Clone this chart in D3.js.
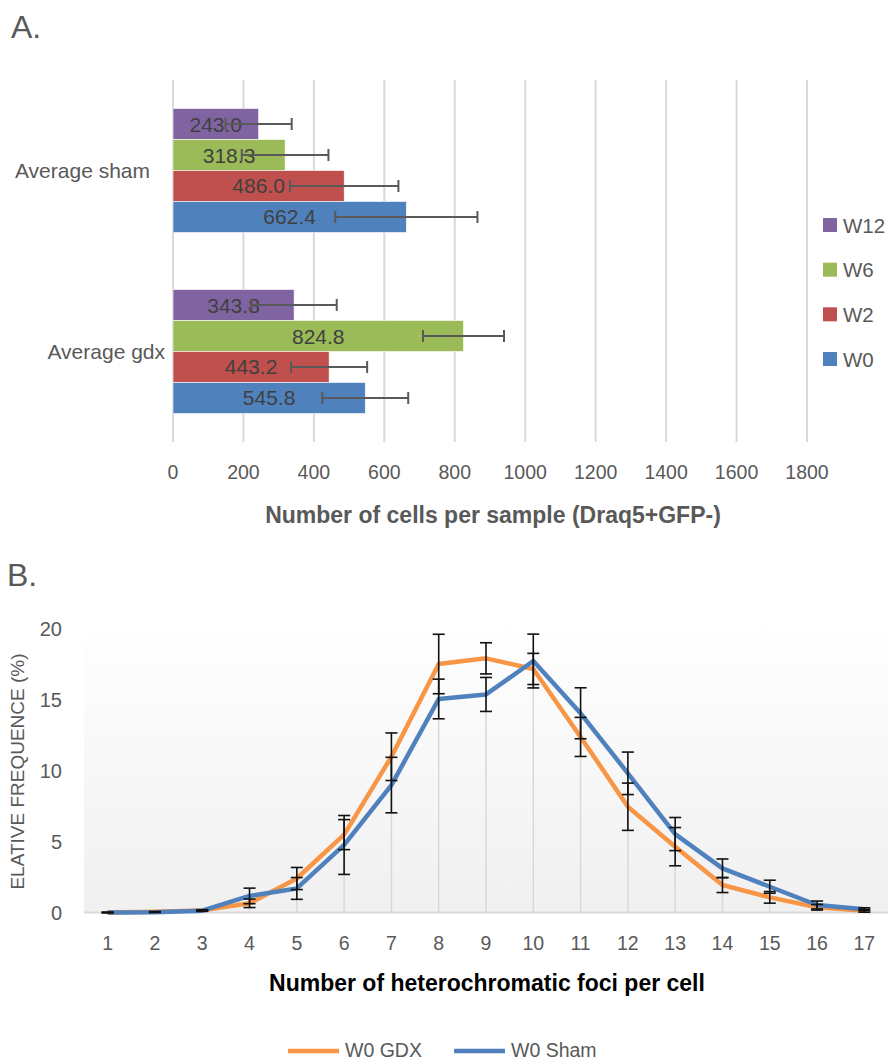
<!DOCTYPE html>
<html>
<head>
<meta charset="utf-8">
<script src="https://cdn.jsdelivr.net/npm/d3@7"></script>
<style>
  html, body { margin: 0; padding: 0; background: #fff; }
  svg { display: block; font-family: "Liberation Sans", Arial, sans-serif; }
</style>
</head>
<body>
<svg id="chart" width="891" height="1062"></svg>
<script>
// ---------- Panel A data ----------
const groupsA = ["Average sham", "Average gdx"];
const seriesA = ["W12", "W6", "W2", "W0"];
const colorsA = ["#8064A2", "#9BBB59", "#C0504D", "#4F81BD"];
const valuesSham = [243.0, 318.3, 486.0, 662.4];
const valuesGdx = [343.8, 824.8, 443.2, 545.8];
const errSham = [94, 123, 154, 202];
const errGdx = [121, 115, 108, 122];
const ticksA = [0, 200, 400, 600, 800, 1000, 1200, 1400, 1600, 1800];

// ---------- Panel B data ----------
const fociCats = [1,2,3,4,5,6,7,8,9,10,11,12,13,14,15,16,17];
const gdxVals = [0.0, 0.05, 0.15, 0.65, 2.4, 5.5, 11.0, 17.55, 17.95, 17.2, 12.4, 7.47, 4.65, 1.94, 1.07, 0.37, 0.12];
const gdxErr  = [0.02, 0.02, 0.05, 0.3, 0.78, 1.06, 1.68, 2.1, 1.1, 1.1, 1.38, 1.67, 1.35, 0.53, 0.41, 0.2, 0.1];
const shamVals = [0.0, 0.02, 0.13, 1.17, 1.7, 4.77, 9.0, 15.08, 15.4, 17.76, 14.07, 9.83, 5.54, 3.12, 1.82, 0.53, 0.23];
const shamErr  = [0.02, 0.02, 0.05, 0.55, 0.77, 2.08, 1.96, 1.4, 1.2, 1.9, 1.8, 1.5, 1.17, 0.66, 0.46, 0.28, 0.1];
const ticksB = [0, 5, 10, 15, 20];
const seriesB = ["W0 GDX", "W0 Sham"];
const colorsB = ["#F79646", "#4F81BD"];

const svg = d3.select("#chart");
const grey = "#595959";

// =============== PANEL A ===============
svg.append("text").attr("x", 11).attr("y", 38).attr("font-size", 32)
  .attr("fill", grey).text("A.");

const xA = d3.scaleLinear().domain([0, 1800]).range([173, 807]);
const yA = d3.scaleBand().domain(groupsA).range([80, 442])
  .paddingInner(0.315).paddingOuter(0.1575);
const yA1 = d3.scaleBand().domain(seriesA).range([0, yA.bandwidth()]);

const gA = svg.append("g");
// gridlines
gA.selectAll("line.grid").data(ticksA).join("line")
  .attr("x1", d => xA(d)).attr("x2", d => xA(d))
  .attr("y1", 80).attr("y2", 442)
  .attr("stroke", "#d9d9d9").attr("stroke-width", 2);
// tick labels
gA.selectAll("text.tick").data(ticksA).join("text")
  .attr("x", d => xA(d)).attr("y", 479)
  .attr("text-anchor", "middle").attr("font-size", 19.5).attr("fill", grey)
  .text(d => d);

const dataA = [];
groupsA.forEach((g, gi) => {
  const vals = gi === 0 ? valuesSham : valuesGdx;
  const errs = gi === 0 ? errSham : errGdx;
  seriesA.forEach((s, si) => dataA.push({g, s, v: vals[si], e: errs[si], c: colorsA[si]}));
});

gA.selectAll("rect.bar").data(dataA).join("rect")
  .attr("x", xA(0)).attr("y", d => yA(d.g) + yA1(d.s))
  .attr("width", d => xA(d.v) - xA(0)).attr("height", yA1.bandwidth())
  .attr("fill", d => d.c).attr("stroke", "#fff").attr("stroke-width", 0.6);

// data labels
gA.selectAll("text.lbl").data(dataA).join("text")
  .attr("x", d => (xA(0) + xA(d.v)) / 2)
  .attr("y", d => yA(d.g) + yA1(d.s) + yA1.bandwidth() / 2 + 7.5)
  .attr("text-anchor", "middle").attr("font-size", 21).attr("fill", "#404040")
  .text(d => d.v.toFixed(1));

// error bars
const eb = gA.selectAll("g.eb").data(dataA).join("g")
  .attr("stroke", grey).attr("stroke-width", 2);
eb.append("line")
  .attr("x1", d => xA(d.v - d.e)).attr("x2", d => xA(d.v + d.e))
  .attr("y1", d => yA(d.g) + yA1(d.s) + yA1.bandwidth() / 2)
  .attr("y2", d => yA(d.g) + yA1(d.s) + yA1.bandwidth() / 2);
[-1, 1].forEach(sg => {
  eb.append("line")
    .attr("x1", d => xA(d.v + sg * d.e)).attr("x2", d => xA(d.v + sg * d.e))
    .attr("y1", d => yA(d.g) + yA1(d.s) + yA1.bandwidth() / 2 - 6)
    .attr("y2", d => yA(d.g) + yA1(d.s) + yA1.bandwidth() / 2 + 6);
});

// category labels
gA.selectAll("text.cat").data(groupsA).join("text")
  .attr("x", (d, i) => i === 0 ? 150 : 165)
  .attr("y", d => yA(d) + yA.bandwidth() / 2 + 7.5)
  .attr("text-anchor", "end").attr("font-size", 21).attr("fill", grey)
  .text(d => d);

// axis title
svg.append("text").attr("x", (xA(0) + xA(1800)) / 2 + 3).attr("y", 523)
  .attr("text-anchor", "middle").attr("font-size", 23).attr("font-weight", "bold")
  .attr("fill", grey).text("Number of cells per sample (Draq5+GFP-)");

// legend A
const legA = svg.append("g");
const legOrder = ["W12", "W6", "W2", "W0"];
const legY = d3.scalePoint().domain(legOrder).range([225, 359]);
legOrder.forEach((s, i) => {
  legA.append("rect").attr("x", 823).attr("y", legY(s) - 7).attr("width", 14).attr("height", 14)
    .attr("fill", colorsA[seriesA.indexOf(s)]);
  legA.append("text").attr("x", 843).attr("y", legY(s) + 7.5).attr("font-size", 20.5)
    .attr("fill", grey).text(s);
});

// =============== PANEL B ===============
svg.append("text").attr("x", 7).attr("y", 586).attr("font-size", 32)
  .attr("fill", grey).text("B.");

const xB = d3.scaleBand().domain(fociCats).range([84, 888]).padding(0);
const cx = d => xB(d) + xB.bandwidth() / 2;
const yB = d3.scaleLinear().domain([0, 20]).range([912.5, 629.3]);

const defs = svg.append("defs");
const grad = defs.append("linearGradient").attr("id", "bgB")
  .attr("x1", 0).attr("y1", 0).attr("x2", 0).attr("y2", 1);
grad.append("stop").attr("offset", "0%").attr("stop-color", "#ffffff");
grad.append("stop").attr("offset", "100%").attr("stop-color", "#f0f0f0");

svg.append("rect").attr("x", 84).attr("y", 620).attr("width", 804).attr("height", yB(0) - 620)
  .attr("fill", "url(#bgB)");

const gB = svg.append("g");
const maxVals = fociCats.map((c, i) => Math.max(gdxVals[i], shamVals[i]));
// drop lines
gB.selectAll("line.drop").data(fociCats).join("line")
  .attr("x1", d => cx(d)).attr("x2", d => cx(d))
  .attr("y1", (d, i) => yB(maxVals[i])).attr("y2", yB(0))
  .attr("stroke", "#d9d9d9").attr("stroke-width", 1.5);
// axis line
gB.append("line").attr("x1", 84).attr("x2", 888).attr("y1", yB(0)).attr("y2", yB(0))
  .attr("stroke", "#d9d9d9").attr("stroke-width", 2);

// y tick labels
gB.selectAll("text.yt").data(ticksB).join("text")
  .attr("x", 62).attr("y", d => yB(d) + 7)
  .attr("text-anchor", "end").attr("font-size", 20).attr("fill", grey).text(d => d);
// x tick labels
gB.selectAll("text.xt").data(fociCats).join("text")
  .attr("x", d => cx(d)).attr("y", 950)
  .attr("text-anchor", "middle").attr("font-size", 19.5).attr("fill", grey).text(d => d);

// lines
const lineGen = vals => d3.line().x((d, i) => cx(fociCats[i])).y(d => yB(d))(vals);
[gdxVals, shamVals].forEach((vals, k) => {
  gB.append("path").attr("d", lineGen(vals)).attr("fill", "none")
    .attr("stroke", colorsB[k]).attr("stroke-width", 4.5).attr("stroke-linejoin", "round");
});

// error bars
[[gdxVals, gdxErr], [shamVals, shamErr]].forEach(([vals, errs]) => {
  const g = gB.append("g").attr("stroke", "#111").attr("stroke-width", 1.6);
  fociCats.forEach((c, i) => {
    const x = cx(c), lo = yB(vals[i] - errs[i]), hi = yB(vals[i] + errs[i]);
    g.append("line").attr("x1", x).attr("x2", x).attr("y1", lo).attr("y2", hi);
    g.append("line").attr("x1", x - 6).attr("x2", x + 6).attr("y1", lo).attr("y2", lo);
    g.append("line").attr("x1", x - 6).attr("x2", x + 6).attr("y1", hi).attr("y2", hi);
  });
});

// y axis title
svg.append("text").attr("transform", "translate(24,771.5) rotate(-90)")
  .attr("text-anchor", "middle").attr("font-size", 19).attr("fill", grey)
  .text("ELATIVE FREQUENCE (%)");

// x axis title
svg.append("text").attr("x", 487).attr("y", 991)
  .attr("text-anchor", "middle").attr("font-size", 23).attr("font-weight", "bold")
  .attr("fill", "#000").text("Number of heterochromatic foci per cell");

// legend B
const legB = svg.append("g");
const legBx = [288, 454];
seriesB.forEach((s, i) => {
  legB.append("line").attr("x1", legBx[i]).attr("x2", legBx[i] + 51)
    .attr("y1", 1051).attr("y2", 1051).attr("stroke", colorsB[i]).attr("stroke-width", 4.5);
  legB.append("text").attr("x", legBx[i] + 57).attr("y", 1057).attr("font-size", 19.5)
    .attr("fill", grey).text(s);
});
</script>
</body>
</html>
